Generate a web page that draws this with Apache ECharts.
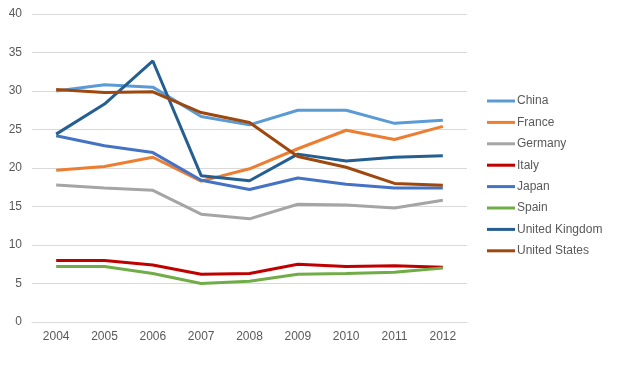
<!DOCTYPE html>
<html>
<head>
<meta charset="utf-8">
<script src="https://cdn.jsdelivr.net/npm/echarts@6/dist/echarts.min.js"></script>
<style>
  html, body { margin: 0; padding: 0; background: #fff; }
  #chart { width: 634px; height: 376px; }
</style>
</head>
<body>
<div id="chart"></div>
<script>
var years = ['2004', '2005', '2006', '2007', '2008', '2009', '2010', '2011', '2012'];
var china = [30.0, 30.8, 30.5, 26.7, 25.6, 27.5, 27.5, 25.8, 26.2];
var france = [19.7, 20.2, 21.4, 18.3, 19.9, 22.5, 24.9, 23.7, 25.4];
var germany = [17.8, 17.4, 17.1, 14.0, 13.4, 15.3, 15.2, 14.8, 15.8];
var italy = [8.0, 8.0, 7.4, 6.2, 6.3, 7.5, 7.2, 7.3, 7.1];
var japan = [24.2, 22.9, 22.0, 18.4, 17.2, 18.7, 17.9, 17.4, 17.4];
var spain = [7.2, 7.2, 6.3, 5.0, 5.3, 6.2, 6.3, 6.45, 7.0];
var uk = [24.4, 28.3, 33.9, 19.0, 18.35, 21.8, 20.9, 21.4, 21.6];
var us = [30.2, 29.8, 29.9, 27.2, 25.9, 21.5, 20.1, 18.0, 17.75];

var names = ['China', 'France', 'Germany', 'Italy', 'Japan', 'Spain', 'United Kingdom', 'United States'];
var colors = ['#5B9BD5', '#ED7D31', '#A5A5A5', '#C00000', '#4472C4', '#70AD47', '#255E91', '#9E480E'];
var values = [china, france, germany, italy, japan, spain, uk, us];

var series = [];
for (var i = 0; i < names.length; i++) {
  series.push({
    name: names[i],
    type: 'line',
    data: values[i],
    symbol: 'none',
    color: colors[i],
    lineStyle: { width: 3, color: colors[i] },
    animation: false
  });
}

var myChart = echarts.init(document.getElementById('chart'));
var option = {
  backgroundColor: '#fff',
  color: colors,
  grid: { left: 32, right: 167, top: 14, bottom: 54 },
  legend: {
    orient: 'vertical',
    left: 482,
    top: 90,
    icon: 'rect',
    itemWidth: 28,
    itemHeight: 3,
    itemGap: 9.4,
    textStyle: { color: '#595959', fontSize: 12, fontFamily: 'Liberation Sans, Arial, sans-serif', padding: [0, 0, 0, -3] },
    data: names
  },
  xAxis: {
    type: 'category',
    data: years,
    boundaryGap: true,
    axisLine: { lineStyle: { color: '#d9d9d9', width: 1 } },
    axisTick: { show: false },
    axisLabel: { color: '#595959', fontSize: 12, fontFamily: 'Liberation Sans, Arial, sans-serif', margin: 9 }
  },
  yAxis: {
    type: 'value',
    min: 0,
    max: 40,
    interval: 5,
    axisLine: { show: false },
    axisTick: { show: false },
    splitLine: { lineStyle: { color: '#d9d9d9', width: 1 } },
    axisLabel: { color: '#595959', fontSize: 12, fontFamily: 'Liberation Sans, Arial, sans-serif', margin: 10 }
  },
  series: series
};
myChart.setOption(option);
window.addEventListener('resize', function () {
  myChart.resize();
});
</script>
</body>
</html>
